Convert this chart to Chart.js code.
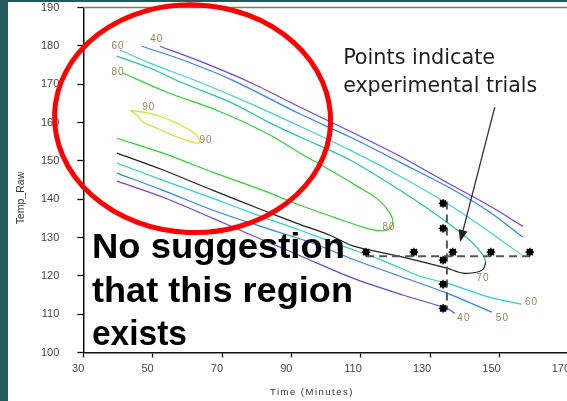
<!DOCTYPE html>
<html>
<head>
<meta charset="utf-8">
<script src="https://cdn.jsdelivr.net/npm/chart.js@4.4.0/dist/chart.umd.min.js"></script>
<style>
    html, body { margin: 0; padding: 0; background: #fff; }
    #wrap { position: relative; width: 567px; height: 401px; overflow: hidden; background: #fff; }
    #plot { position: absolute; left: 0; top: 0; width: 620px; height: 401px; }
    .edge { position: absolute; background: #255a5c; }
</style>
</head>
<body>
<div id="wrap">
    <canvas id="plot" width="620" height="401"></canvas>
    <div class="edge" style="left:0;top:0;width:8px;height:401px"></div>
    <div class="edge" style="left:0;top:0;width:567px;height:2px"></div>
</div>
<script>
const xTicks = [30, 50, 70, 90, 110, 130, 150, 170];
const yTicks = [100, 110, 120, 130, 140, 150, 160, 170, 180, 190];

// contour lines, [time, temp]
const c40Upper = [[52.1,179.9],[63.6,176.0],[78.0,170.5],[92.5,164.0],[106.9,157.7],[121.3,151.2],[135.7,143.9],[147.2,138.2],[156.7,132.9]];
const c50Upper = [[46.9,179.9],[58.7,176.3],[73.1,171.0],[92.5,162.2],[106.9,156.2],[121.3,149.6],[135.7,142.9],[147.2,136.6],[156.7,130.1]];
const c60Upper = [[40.6,178.9],[49.2,175.5],[63.6,170.5],[78.0,165.0],[92.5,159.0],[106.9,152.8],[121.3,146.0],[135.7,138.4],[147.2,131.4],[156.4,125.4]];
const c70Upper = [[39.7,177.3],[49.2,174.2],[58.7,170.3],[73.1,165.0],[82.9,160.3],[92.5,156.2],[106.9,150.2],[121.3,142.3],[132.8,135.3],[141.4,129.3],[145.2,125.4],[146.0,123.6]];
const c70Lower = [[146.0,123.6],[145.4,121.9],[143.7,121.0],[139.4,120.7],[134.8,122.0],[122.1,124.9],[107.7,127.8],[101.1,130.6],[91.6,133.7],[81.8,137.1],[67.4,142.3],[53.0,147.6],[39.7,152.0]];
const c80 = [[41.4,172.9],[54.1,167.9],[68.5,163.2],[82.9,157.2],[92.5,152.0],[101.1,147.6],[108.9,143.4],[114.6,140.2],[118.4,136.3],[119.2,133.7],[117.5,131.9],[112.6,132.2],[103.1,135.0],[92.5,138.4],[81.8,142.3],[67.4,147.0],[53.0,152.0],[39.7,155.9]];
const c90 = [[43.5,163.2],[47.2,162.7],[51.2,161.9],[57.0,159.8],[61.6,157.5],[63.6,155.4],[63.1,154.6],[61.3,154.9],[57.0,156.2],[51.2,158.5],[47.2,160.1],[45.5,161.9],[43.5,163.2]];
const c60Lower = [[39.7,149.4],[53.0,144.9],[67.4,140.2],[81.8,135.3],[92.5,131.9],[104.0,128.0],[115.5,124.3],[127.0,119.9],[134.8,118.1],[147.2,114.4],[156.4,112.6]];
const c50Lower = [[39.7,146.8],[53.0,142.3],[67.4,137.1],[81.8,132.7],[96.2,128.5],[106.9,124.6],[121.3,119.9],[134.8,115.5],[147.8,110.5]];
const c40Lower = [[39.7,144.7],[53.0,140.5],[67.4,135.0],[77.2,131.1],[86.7,127.5],[93.3,124.9],[107.7,119.4],[122.1,115.0],[134.8,111.5],[137.1,110.2]];

const contourLabels = ['40', '60', '80', '90', '90', '80', '70', '60', '50', '40'];
const labelTime = [51.2, 40.0, 40.0, 48.9, 65.4, 118.1, 145.2, 159.2, 150.8, 139.7];
const labelTemp = [181.7, 179.9, 173.1, 164.0, 155.4, 132.7, 119.3, 113.1, 108.9, 108.9];

// experimental trials
const trialTime = [133.7, 133.7, 133.7, 133.7, 133.7, 111.5, 125.3, 136.5, 147.5, 158.7];
const trialTemp = [138.9, 132.4, 124.1, 117.8, 111.5, 126.2, 126.2, 126.2, 126.2, 126.2];

// dashed design lines
const vLine = [[134.8, 139.4], [134.8, 111.0]];
const hLine = [[111.5, 125.1], [159.8, 125.1]];

const toXY = pts => pts.map(p => ({ x: p[0], y: p[1] }));

const contours = [
    [c40Upper, '#6f40f0'], [c50Upper, '#2f82ff'], [c60Upper, '#3ed2d8'],
    [c70Upper, '#22c6a0'], [c70Lower, '#222222'], [c80, '#30d030'],
    [c90, '#c8e62c'], [c60Lower, '#2ccfd0'], [c50Lower, '#2f82ff'], [c40Lower, '#6f40f0']
];

const trials = trialTime.map((t, i) => ({ x: t, y: trialTemp[i] }));

const datasets = [
    { data: trials, pointStyle: 'star', pointRadius: 4.4, borderColor: '#000', borderWidth: 1.3, showLine: false },
    { data: trials, pointStyle: 'circle', pointRadius: 3.4, backgroundColor: '#000', borderColor: '#000', borderWidth: 0, showLine: false },
    { data: toXY(vLine), showLine: true, pointRadius: 0, borderColor: '#555', borderWidth: 2, borderDash: [8, 5], tension: 0 },
    { data: toXY(hLine), showLine: true, pointRadius: 0, borderColor: '#555', borderWidth: 2, borderDash: [8, 5], tension: 0 }
].concat(contours.map(c => ({
    data: toXY(c[0]),
    showLine: true,
    pointRadius: 0,
    borderColor: c[1],
    borderWidth: 1.2,
    tension: 0.3
})));

function fitText(ctx, text, x, y, width) {
    const w = ctx.measureText(text).width;
    ctx.save();
    ctx.translate(x, y);
    ctx.scale(width / w, 1);
    ctx.fillText(text, 0, 0);
    ctx.restore();
}

const overlay = {
    id: 'overlay',
    afterDraw(chart) {
        const { ctx, chartArea: a, scales: { x, y } } = chart;
        const px = v => x.getPixelForValue(v);
        const py = v => y.getPixelForValue(v);
        ctx.save();

        // top frame
        ctx.strokeStyle = '#777';
        ctx.lineWidth = 1.5;
        ctx.beginPath();
        ctx.moveTo(a.left, a.top);
        ctx.lineTo(chart.width, a.top);
        ctx.stroke();

        // contour labels
        ctx.font = '10px "Liberation Sans", Arial, sans-serif';
        ctx.fillStyle = '#a07c58';
        ctx.textAlign = 'center';
        ctx.textBaseline = 'middle';
        ctx.letterSpacing = '1px';
        contourLabels.forEach((s, i) => ctx.fillText(s, px(labelTime[i]), py(labelTemp[i])));

        // axis titles
        ctx.fillStyle = '#333';
        ctx.textBaseline = 'alphabetic';
        ctx.font = '9.5px "Liberation Sans", Arial, sans-serif';
        ctx.letterSpacing = '1.5px';
        ctx.fillText('Time (Minutes)', px(95.9), 395);
        ctx.letterSpacing = '0px';
        ctx.font = '10.5px "Liberation Sans", Arial, sans-serif';
        ctx.save();
        ctx.translate(24, 198);
        ctx.rotate(-Math.PI / 2);
        ctx.fillText('Temp_Raw', 0, 0);
        ctx.restore();

        // red ellipse
        const cx = px(61.5), cy = py(161.0);
        ctx.strokeStyle = '#ff0000';
        ctx.lineWidth = 5;
        ctx.beginPath();
        ctx.ellipse(cx, cy, px(61.5 + 39.8) - cx, py(161.0 - 29.7) - cy, 0.04, 0, Math.PI * 2);
        ctx.stroke();

        // callout
        ctx.fillStyle = '#1e1e1e';
        ctx.textAlign = 'left';
        ctx.font = '22px "DejaVu Sans Condensed", "DejaVu Sans", sans-serif';
        fitText(ctx, 'Points indicate', px(104.9), py(175.2), 152);
        fitText(ctx, 'experimental trials', px(104.9), py(167.9), 194);

        const x0 = px(148.6), y0 = py(164.0), x1 = px(138.6), y1 = py(128.8);
        const ang = Math.atan2(y1 - y0, x1 - x0);
        ctx.strokeStyle = '#333';
        ctx.lineWidth = 1.3;
        ctx.beginPath();
        ctx.moveTo(x0, y0);
        ctx.lineTo(x1 - 10 * Math.cos(ang), y1 - 10 * Math.sin(ang));
        ctx.stroke();
        ctx.fillStyle = '#222';
        ctx.beginPath();
        ctx.moveTo(x1, y1);
        ctx.lineTo(x1 - 12 * Math.cos(ang) + 4.5 * Math.sin(ang), y1 - 12 * Math.sin(ang) - 4.5 * Math.cos(ang));
        ctx.lineTo(x1 - 12 * Math.cos(ang) - 4.5 * Math.sin(ang), y1 - 12 * Math.sin(ang) + 4.5 * Math.cos(ang));
        ctx.closePath();
        ctx.fill();

        // big note
        ctx.fillStyle = '#000';
        ctx.font = 'bold 35px "Liberation Sans", Arial, sans-serif';
        fitText(ctx, 'No suggestion', px(32.5), py(124.6), 253);
        fitText(ctx, 'that this region', px(32.5), py(113.1), 261);
        fitText(ctx, 'exists', px(32.5), py(101.9), 95);

        ctx.restore();
    }
};

const tickFont = { family: '"Liberation Sans", Arial, sans-serif', size: 11 };

new Chart(document.getElementById('plot'), {
    type: 'scatter',
    data: { datasets },
    options: {
        responsive: false,
        animation: false,
        devicePixelRatio: 1,
        layout: { autoPadding: false, padding: { left: 0, top: 7.5, right: 51, bottom: 0 } },
        plugins: { legend: { display: false }, tooltip: { enabled: false } },
        scales: {
            x: {
                type: 'linear',
                min: 30,
                max: 170,
                afterBuildTicks: s => { s.ticks = xTicks.map(v => ({ value: v })); },
                afterFit: s => { s.height = 48.5; s.paddingLeft = 0; s.paddingRight = 0; },
                ticks: { font: tickFont, color: '#444', padding: 5, align: 'end', labelOffset: 1 },
                grid: { drawOnChartArea: false, drawTicks: true, tickLength: 5, tickColor: '#111', tickWidth: 1.3 },
                border: { display: true, color: '#111', width: 1.5 }
            },
            y: {
                type: 'linear',
                min: 100,
                max: 190,
                afterBuildTicks: s => { s.ticks = yTicks.map(v => ({ value: v })); },
                afterFit: s => { s.width = 83.3; s.paddingTop = 0; s.paddingBottom = 0; },
                ticks: { font: tickFont, color: '#444', padding: 18 },
                grid: { drawOnChartArea: false, drawTicks: true, tickLength: 6, tickColor: '#111', tickWidth: 1.3 },
                border: { display: true, color: '#111', width: 1.5 }
            }
        }
    },
    plugins: [overlay]
});
</script>
</body>
</html>
